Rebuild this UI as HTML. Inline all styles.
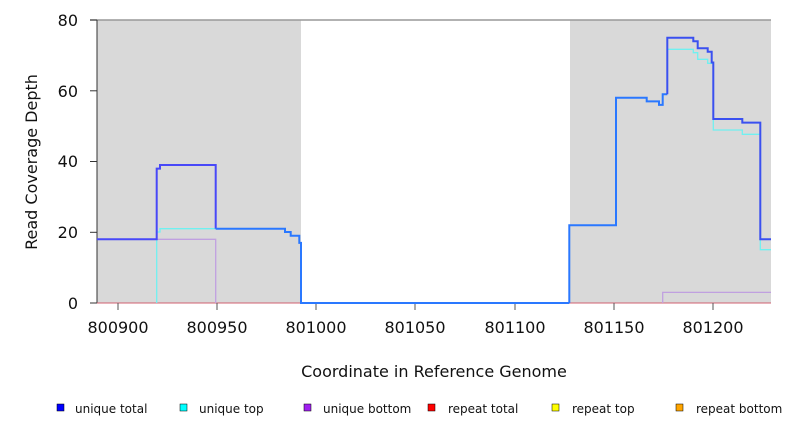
<!DOCTYPE html>
<html><head><meta charset="utf-8"><style>body{margin:0;background:#fff}</style></head><body>
<svg width="792" height="432" xmlns="http://www.w3.org/2000/svg" font-family="DejaVu Sans, Liberation Sans, sans-serif">
<rect x="97" y="20" width="204" height="283" fill="#d9d9d9"/>
<rect x="570" y="20" width="201" height="283" fill="#d9d9d9"/>
<line x1="90" y1="20" x2="771" y2="20" stroke="#999" stroke-width="1.5"/>
<line x1="97" y1="20" x2="97" y2="303" stroke="#333" stroke-width="1"/>
<line x1="97" y1="303" x2="771" y2="303" stroke="#d06070" stroke-width="1"/>
<g stroke="#333" stroke-width="1">
<line x1="90" y1="303" x2="97" y2="303"/><line x1="90" y1="232.3" x2="97" y2="232.3"/><line x1="90" y1="161.5" x2="97" y2="161.5"/><line x1="90" y1="90.8" x2="97" y2="90.8"/><line x1="90" y1="20" x2="97" y2="20"/>
</g>
<g stroke="#555" stroke-width="1">
<line x1="118" y1="303" x2="118" y2="310"/><line x1="217" y1="303" x2="217" y2="310"/><line x1="316" y1="303" x2="316" y2="310"/><line x1="415" y1="303" x2="415" y2="310"/><line x1="515" y1="303" x2="515" y2="310"/><line x1="614" y1="303" x2="614" y2="310"/><line x1="713" y1="303" x2="713" y2="310"/>
</g>
<g font-size="16" fill="#111" text-anchor="end">
<text x="78" y="309">0</text><text x="78" y="238">20</text><text x="78" y="167">40</text><text x="78" y="97">60</text><text x="78" y="26">80</text>
</g>
<g font-size="16" fill="#111" text-anchor="middle">
<text x="118" y="333">800900</text><text x="217" y="333">800950</text><text x="316" y="333">801000</text><text x="415" y="333">801050</text><text x="515" y="333">801100</text><text x="614" y="333">801150</text><text x="713" y="333">801200</text>
<text x="434" y="377">Coordinate in Reference Genome</text>
<text transform="translate(37,162) rotate(-90)">Read Coverage Depth</text>
</g>
<g fill="none" stroke-width="1.3">
<polyline stroke="#70f0f0" points="156.7,303 156.7,232 160,232 160,228.7 215.7,228.7"/>
<polyline stroke="#c0a0e0" points="156.7,239.3 215.7,239.3 215.7,303"/>
<polyline stroke="#c0a0e0" points="662.7,303 662.7,292.4 771,292.4"/>
<polyline stroke="#70f0f0" points="667.3,49.3 693.3,49.3 693.3,52.7 697.7,52.7 697.7,59.3 707.7,59.3 707.7,63.3 713.3,63.3 713.3,130 742.3,130 742.3,134.3 760.3,134.3 760.3,249.7 771,249.7"/>
<polyline stroke="#4848f8" stroke-width="2" points="97,239.3 156.7,239.3 156.7,168.6 160,168.6 160,165 215.7,165 215.7,228.7"/>
<polyline stroke="#2a78ff" stroke-width="2" points="215.7,228.7 285,228.7 285,232 290.7,232 290.7,235.8 299.3,235.8 299.3,242.9 301,242.9 301,303 569.3,303"/>
<polyline stroke="#2a78ff" stroke-width="2" points="569.3,303 569.3,225.2 616,225.2 616,97.8 646.7,97.8 646.7,101.4 659,101.4 659,104.9 662.7,104.9 662.7,94.3 667.3,94.3"/>
<polyline stroke="#3a50f0" stroke-width="2" points="667.3,94.3 667.3,37.7 693.3,37.7 693.3,41.2 697.7,41.2 697.7,48.3 707.7,48.3 707.7,51.8 711.7,51.8 711.7,62.5 713.3,62.5 713.3,119 742.3,119 742.3,122.6 760.3,122.6 760.3,239.3 771,239.3"/>
</g>
<g font-size="12" fill="#111">
<rect x="57" y="404" width="7" height="7" fill="#0000ff" stroke="#000" stroke-width="0.5"/><text x="75" y="413">unique total</text>
<rect x="180" y="404" width="7" height="7" fill="#00ffff" stroke="#000" stroke-width="0.5"/><text x="199" y="413">unique top</text>
<rect x="304" y="404" width="7" height="7" fill="#a020f0" stroke="#000" stroke-width="0.5"/><text x="323" y="413">unique bottom</text>
<rect x="428" y="404" width="7" height="7" fill="#ff0000" stroke="#000" stroke-width="0.5"/><text x="448" y="413">repeat total</text>
<rect x="552" y="404" width="7" height="7" fill="#ffff00" stroke="#000" stroke-width="0.5"/><text x="572" y="413">repeat top</text>
<rect x="676" y="404" width="7" height="7" fill="#ffa500" stroke="#000" stroke-width="0.5"/><text x="696" y="413">repeat bottom</text>
</g>
</svg>
</body></html>
